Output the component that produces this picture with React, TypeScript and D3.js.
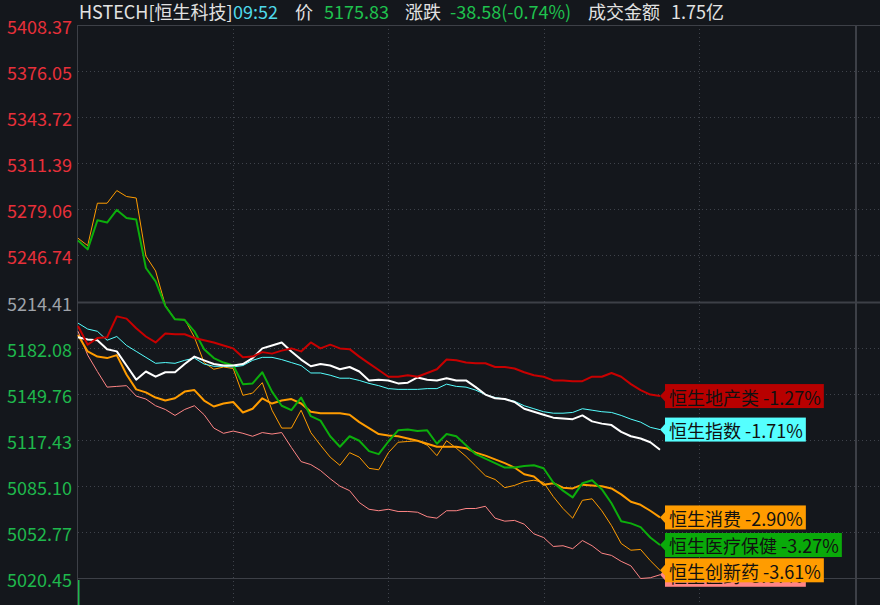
import React, { useEffect, useRef } from 'react';
import * as d3 from 'd3';

// ---------- data (percent change vs previous close, one point per time step) ----------
const prevClose = 5214.41;
const yTickLabels = ['5408.37', '5376.05', '5343.72', '5311.39', '5279.06', '5246.74', '5214.41', '5182.08', '5149.76', '5117.43', '5085.10', '5052.77', '5020.45'];

const realEstate = [-0.33, -0.58, -0.49, -0.48, -0.20, -0.23, -0.36, -0.47, -0.55, -0.43, -0.44, -0.44, -0.49, -0.52, -0.55, -0.59, -0.63, -0.75, -0.74, -0.68, -0.70, -0.66, -0.63, -0.67, -0.55, -0.63, -0.58, -0.63, -0.64, -0.74, -0.83, -0.92, -1.01, -1.01, -0.99, -1.01, -0.96, -0.91, -0.78, -0.79, -0.82, -0.83, -0.83, -0.88, -0.88, -0.90, -0.95, -0.99, -1.01, -1.06, -1.06, -1.07, -1.07, -1.01, -1.01, -0.96, -1.01, -1.11, -1.19, -1.25, -1.27];
const hsi = [-0.29, -0.37, -0.40, -0.52, -0.47, -0.59, -0.67, -0.75, -0.83, -0.82, -0.83, -0.79, -0.76, -0.84, -0.87, -0.87, -0.88, -0.86, -0.79, -0.75, -0.75, -0.78, -0.82, -0.86, -0.96, -0.96, -0.99, -1.03, -1.03, -1.06, -1.10, -1.13, -1.17, -1.18, -1.18, -1.18, -1.17, -1.17, -1.11, -1.14, -1.15, -1.19, -1.25, -1.29, -1.31, -1.34, -1.40, -1.44, -1.48, -1.50, -1.50, -1.49, -1.44, -1.46, -1.48, -1.49, -1.53, -1.58, -1.62, -1.69, -1.72];
const hstech = [-0.48, -0.51, -0.52, -0.64, -0.67, -0.86, -1.05, -0.94, -1.01, -0.95, -0.95, -0.84, -0.74, -0.79, -0.84, -0.86, -0.86, -0.84, -0.76, -0.63, -0.59, -0.55, -0.67, -0.78, -0.87, -0.84, -0.86, -0.91, -0.88, -0.94, -1.06, -1.05, -1.06, -1.10, -1.09, -1.02, -1.05, -1.06, -1.03, -1.06, -1.06, -1.15, -1.25, -1.30, -1.31, -1.35, -1.44, -1.48, -1.52, -1.56, -1.57, -1.58, -1.53, -1.61, -1.64, -1.66, -1.75, -1.81, -1.84, -1.89, -1.99];
const consumer = [-0.45, -0.67, -0.74, -0.76, -0.72, -0.98, -1.18, -1.22, -1.29, -1.33, -1.30, -1.21, -1.19, -1.33, -1.41, -1.37, -1.35, -1.49, -1.44, -1.30, -1.37, -1.33, -1.31, -1.37, -1.48, -1.50, -1.50, -1.50, -1.52, -1.62, -1.70, -1.78, -1.80, -1.81, -1.84, -1.87, -1.91, -1.95, -1.95, -1.95, -1.97, -2.03, -2.07, -2.12, -2.17, -2.23, -2.32, -2.35, -2.46, -2.44, -2.50, -2.51, -2.46, -2.47, -2.48, -2.51, -2.59, -2.69, -2.73, -2.81, -2.90];
const healthcare = [0.82, 0.70, 1.09, 1.06, 1.23, 1.12, 1.10, 0.45, 0.27, -0.06, -0.24, -0.25, -0.40, -0.64, -0.76, -0.82, -0.86, -1.11, -1.10, -0.95, -1.21, -1.40, -1.46, -1.29, -1.54, -1.60, -1.81, -1.95, -1.81, -1.87, -2.01, -2.05, -1.88, -1.73, -1.72, -1.74, -1.73, -1.91, -1.78, -1.81, -1.93, -2.05, -2.11, -2.17, -2.23, -2.23, -2.21, -2.20, -2.24, -2.43, -2.54, -2.63, -2.44, -2.40, -2.52, -2.71, -2.95, -2.98, -3.03, -3.17, -3.27];
const innovDrug = [0.85, 0.75, 1.32, 1.32, 1.49, 1.41, 1.39, 0.61, 0.41, -0.05, -0.24, -0.24, -0.48, -0.82, -0.91, -0.88, -0.90, -1.26, -1.23, -1.09, -1.46, -1.70, -1.70, -1.46, -1.76, -1.93, -2.09, -2.20, -2.03, -2.09, -2.24, -2.26, -2.03, -1.89, -1.88, -1.87, -1.93, -2.07, -1.87, -1.97, -2.08, -2.21, -2.34, -2.39, -2.50, -2.47, -2.42, -2.40, -2.43, -2.62, -2.78, -2.91, -2.67, -2.65, -2.81, -3.01, -3.25, -3.34, -3.33, -3.48, -3.61];
const pharma = [-0.40, -0.72, -0.94, -1.15, -1.14, -1.13, -1.27, -1.31, -1.40, -1.45, -1.53, -1.45, -1.40, -1.52, -1.70, -1.77, -1.74, -1.77, -1.81, -1.76, -1.78, -1.76, -1.96, -2.15, -2.19, -2.27, -2.38, -2.48, -2.54, -2.70, -2.79, -2.81, -2.79, -2.82, -2.82, -2.83, -2.89, -2.91, -2.81, -2.81, -2.78, -2.78, -2.75, -2.91, -2.95, -2.94, -2.99, -3.12, -3.17, -3.29, -3.28, -3.32, -3.21, -3.28, -3.38, -3.41, -3.49, -3.55, -3.72, -3.71, -3.67];

const volumes = [1];

const headerTexts = ['HSTECH[恒生科技]', '09:52', '价', '5175.83', '涨跌', '-38.58(-0.74%)', '成交金额', '1.75亿'];
const headerColors = ['#e2e2e2', '#4fd9ea', '#e2e2e2', '#1fc24e', '#e2e2e2', '#1fc24e', '#e2e2e2', '#e2e2e2'];
const headerX = [79, 233, 295, 324, 405, 450, 588, 671];

type S = { values: number[]; color: string; width: number; label?: string; labelBg?: string };
const series: S[] = [
  { values: pharma, color: '#ff8585', width: 1, label: '恒生医药 -3.67%', labelBg: '#ff8585' },
  { values: innovDrug, color: '#ff9c00', width: 1, label: '恒生创新药 -3.61%', labelBg: '#ff9c00' },
  { values: hsi, color: '#55ffff', width: 1, label: '恒生指数 -1.71%', labelBg: '#55ffff' },
  { values: consumer, color: '#ff9c00', width: 2, label: '恒生消费 -2.90%', labelBg: '#ff9c00' },
  { values: healthcare, color: '#0cae0c', width: 2, label: '恒生医疗保健 -3.27%', labelBg: '#0aaa0a' },
  { values: hstech, color: '#ffffff', width: 2 },
  { values: realEstate, color: '#c80000', width: 2, label: '恒生地产类 -1.27%', labelBg: '#b80000' },
];

const FONT = '"Noto Sans CJK SC", "Noto Sans", sans-serif';

export default function App() {
  const ref = useRef<SVGSVGElement>(null);
  useEffect(() => {
    const svg = d3.select(ref.current);
    svg.selectAll('*').remove();
    const W = 880, H = 605;
    const left = 78, top = 25, bottom = 579, right = 856;
    const x = d3.scaleLinear().domain([0, 80]).range([left, 854]);
    const y = d3.scaleLinear().domain([-3.72, 3.72]).range([578.5, 24.5]);

    svg.append('rect').attr('width', W).attr('height', H).attr('fill', '#14171c');

    // horizontal grid
    yTickLabels.forEach((lab, i) => {
      const v = +lab;
      const pct = (v / prevClose - 1) * 100;
      const yy = Math.round(y(pct)) + 0.5;
      const solid = i === 0 || lab === '5214.41' || i === yTickLabels.length - 1;
      svg.append('line').attr('x1', left).attr('x2', W).attr('y1', yy).attr('y2', yy)
        .attr('stroke', solid ? '#3d4047' : '#3f434b')
        .attr('stroke-width', lab === '5214.41' ? 2 : 1)
        .attr('stroke-dasharray', solid ? null : '1,3');
      const color = v > prevClose + 0.01 ? '#e8303a' : v < prevClose - 0.01 ? '#1fb84c' : '#9fa3a9';
      svg.append('text').attr('x', 72).attr('y', yy).attr('text-anchor', 'end')
        .attr('dominant-baseline', 'central').attr('font-family', FONT).attr('font-size', 18)
        .attr('fill', color).text(lab);
    });

    // vertical grid
    [16, 32, 48, 64].forEach((t) => {
      const xx = Math.round(x(t)) + 0.5;
      svg.append('line').attr('x1', xx).attr('x2', xx).attr('y1', top).attr('y2', H)
        .attr('stroke', '#3f434b').attr('stroke-dasharray', '1,3');
    });
    svg.append('line').attr('x1', left - 0.5).attr('x2', left - 0.5).attr('y1', top).attr('y2', H).attr('stroke', '#3d4047');
    svg.append('line').attr('x1', right).attr('x2', right).attr('y1', top).attr('y2', H).attr('stroke', '#3d4047').attr('stroke-width', 2);

    // volume
    const vy = d3.scaleLinear().domain([0, 1]).range([H, bottom + 1]);
    volumes.forEach((v, i) => {
      svg.append('rect').attr('x', x(i)).attr('y', vy(v)).attr('width', 1.5).attr('height', H - vy(v)).attr('fill', '#1fb84c');
    });

    // lines
    const line = d3.line<number>().x((_, i) => x(i)).y((d) => y(d));
    series.forEach((s) => {
      svg.append('path').attr('d', line(s.values)).attr('fill', 'none')
        .attr('stroke', s.color).attr('stroke-width', s.width).attr('stroke-linejoin', 'round');
    });

    // labels
    series.filter((s) => s.label).forEach((s) => {
      const n = s.values.length - 1;
      const ex = x(n);
      const ey = y(s.values[n]);
      const x0 = ex + 5;
      const g = svg.append('g');
      const rect = g.append('rect').attr('x', x0).attr('y', ey - 12).attr('height', 24).attr('fill', s.labelBg!);
      g.append('path').attr('d', `M${x0 - 5},${ey} L${x0 + 0.5},${ey - 6} L${x0 + 0.5},${ey + 6} Z`).attr('fill', s.labelBg!);
      const t = g.append('text').attr('x', x0 + 4).attr('y', ey + 0.5).attr('dominant-baseline', 'central')
        .attr('font-family', FONT).attr('font-size', 18).attr('fill', '#111').text(s.label!);
      const len = (t.node() as SVGTextElement).getComputedTextLength();
      rect.attr('width', len + 7);
    });

    // header
    headerTexts.forEach((txt, i) => {
      svg.append('text').attr('x', headerX[i]).attr('y', 19).attr('font-family', FONT).attr('font-size', 18)
        .attr('fill', headerColors[i]).text(txt);
    });
  }, []);
  return <svg ref={ref} width={880} height={605} style={{ position: 'fixed', left: 0, top: 0, display: 'block' }} />;
}
